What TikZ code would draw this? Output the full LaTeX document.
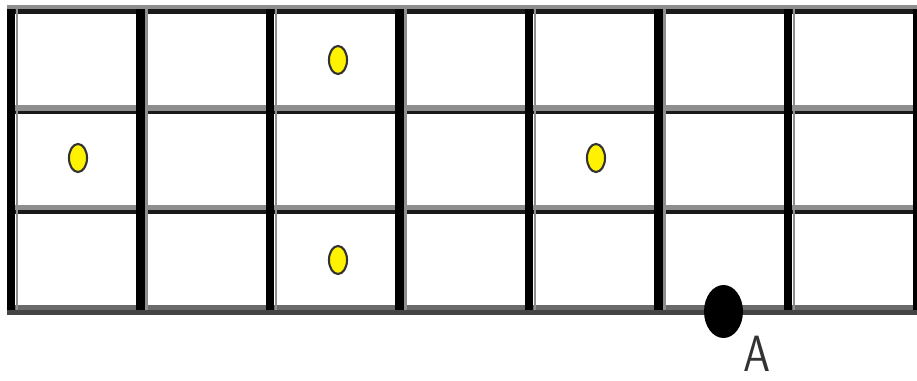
\documentclass[tikz,border=0pt]{standalone}
\usetikzlibrary{shapes.geometric}
\definecolor{shadegray}{HTML}{8E8E8E}
\definecolor{basegray}{HTML}{6A6A6A}
\definecolor{basedark}{HTML}{444444}
\definecolor{dotyellow}{HTML}{FFF200}

\begin{document}
\begin{tikzpicture}[
			x=0.02cm, y=-0.02cm,
			hrule/.style={line width=2pt, black!90},
			hshade/.style={line width=3.1pt, shadegray},
			vrule/.style={line width=4.8pt, black},
			vshade/.style={line width=1.7pt, shadegray},
			seed/.style={ellipse, draw=black!80, line width=1.2pt, fill=dotyellow,
				inner sep=0pt, minimum width=0.36cm, minimum height=0.56cm},
			stone/.style={ellipse, fill=black, inner sep=0pt,
				minimum width=0.78cm, minimum height=1.06cm},
			letter/.style={inner sep=0pt, font=\sffamily\fontsize{29}{29}\selectfont,
				text=black!80, xscale=0.85, transform shape}
			]
			\useasboundingbox (0,0) rectangle (917,381);

			% horizontal rules
			\draw[hshade, line width=2.3pt] (7,7) -- (917,7);
			\draw[hrule, line width=2.8pt] (7,11.5) -- (917,11.5);
			\foreach \y in {108,207.5} {
				\draw[hshade] (7,\y) -- (917,\y);
				\draw[hrule] (7,\y+4.5) -- (917,\y+4.5);
			}
			\draw[line width=2.8pt, basegray] (7,307.5) -- (917,307.5);

			% vertical rules
			\foreach \i in {0,...,7} {
				\draw[vshade] ({17+129.5*\i},9) -- ++(0,301);
				\draw[vrule] ({11+129.5*\i},9) -- ++(0,301);
			}
			\draw[line width=2.8pt, basedark] (7,312.5) -- (917,312.5);

			% pieces
			\node[seed] (s1) at (338,60) {};
			\node[seed] (s2) at (78,158) {};
			\node[seed] (s3) at (596,158) {};
			\node[seed] (s4) at (338,260) {};

			\node[stone] (a) at (723.5,311.5) {};
			\node[letter] (lblA) at (757,354) {A};
		\end{tikzpicture}
\end{document}
